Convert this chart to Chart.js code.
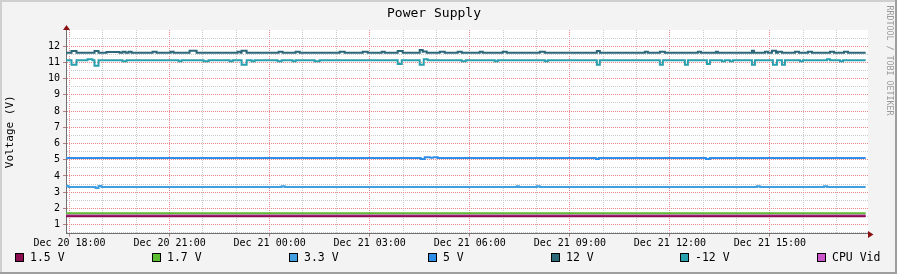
<!DOCTYPE html>
<html>
<head>
<meta charset="utf-8">
<script src="https://cdn.jsdelivr.net/npm/chart.js@4.4.0/dist/chart.umd.min.js"></script>
<style>
html, body { margin: 0; padding: 0; background: #f3f3f3; overflow: hidden; }
#psu-wrap { width: 897px; height: 274px; position: relative; }
</style>
</head>
<body>
<div id="psu-wrap"><canvas id="psu" width="897" height="274"></canvas></div>
<script>
// x values are hours after Dec 20 18:00
const seriesNames = ['1.5 V', '1.7 V', '3.3 V', '5 V', '12 V', '-12 V', 'CPU Vid'];
const baseValues = [1.52, 1.70, 3.32, 5.10, 11.59, 11.14, 1.58];
const xTickLabels = ['Dec 20 18:00', 'Dec 20 21:00', 'Dec 21 00:00', 'Dec 21 03:00',
                     'Dec 21 06:00', 'Dec 21 09:00', 'Dec 21 12:00', 'Dec 21 15:00'];
const yTickLabels = [1, 2, 3, 4, 5, 6, 7, 8, 9, 10, 11, 12];

// short excursions away from the base value: [from hour, to hour, value]
const steps33 = [
  [-0.105, -0.03, 3.38], [0.78, 0.87, 3.25], [0.87, 0.96, 3.38], [6.36, 6.45, 3.37],
  [13.41, 13.47, 3.36], [14.01, 14.1, 3.37], [20.61, 20.7, 3.37], [22.62, 22.71, 3.37]
];
const steps5 = [
  [10.53, 10.65, 5.05], [10.65, 10.8, 5.15], [10.8, 10.92, 5.12], [10.92, 11.04, 5.16],
  [15.78, 15.87, 5.05], [19.08, 19.2, 5.05]
];
const steps12 = [
  [0.06, 0.21, 11.71], [0.75, 0.87, 11.71], [1.11, 1.5, 11.64], [1.59, 1.68, 11.66],
  [1.77, 1.86, 11.66], [2.49, 2.61, 11.66], [3.03, 3.12, 11.66], [3.6, 3.81, 11.72],
  [5.04, 5.13, 11.66], [5.16, 5.31, 11.72], [6.27, 6.39, 11.66], [6.78, 6.9, 11.66],
  [8.1, 8.25, 11.66], [8.79, 8.94, 11.66], [9.36, 9.45, 11.66], [9.84, 9.99, 11.7],
  [10.5, 10.59, 11.76], [10.59, 10.71, 11.68], [11.1, 11.25, 11.66], [11.64, 11.76, 11.66],
  [12.3, 12.39, 11.66], [12.99, 13.11, 11.66], [14.1, 14.25, 11.66], [15.81, 15.9, 11.7],
  [17.25, 17.34, 11.66], [17.7, 17.85, 11.66], [18.84, 18.93, 11.66], [19.38, 19.44, 11.66],
  [20.46, 20.52, 11.72], [20.85, 20.94, 11.66], [21.06, 21.18, 11.72], [21.24, 21.36, 11.66],
  [21.75, 21.87, 11.66], [22.14, 22.26, 11.66], [22.8, 22.92, 11.66], [23.22, 23.34, 11.66]
];
const stepsNeg12 = [
  [0.06, 0.21, 10.85], [0.54, 0.69, 11.2], [0.75, 0.87, 10.8], [1.59, 1.71, 11.08],
  [3.27, 3.36, 11.08], [4.02, 4.17, 11.08], [4.8, 4.89, 11.08], [5.16, 5.31, 10.85],
  [5.46, 5.55, 11.08], [6.24, 6.36, 11.08], [6.69, 6.78, 11.08], [7.35, 7.5, 11.08],
  [9.84, 9.96, 10.9], [10.5, 10.62, 10.85], [10.62, 10.74, 11.2], [11.76, 11.88, 11.08],
  [12.75, 12.84, 11.08], [14.25, 14.34, 11.08], [15.81, 15.9, 10.85], [17.7, 17.79, 10.85],
  [18.45, 18.54, 10.85], [19.11, 19.2, 10.9], [19.56, 19.65, 11.08], [19.8, 19.89, 11.08],
  [20.46, 20.55, 10.85], [21.09, 21.21, 10.85], [21.36, 21.45, 10.85], [21.9, 21.99, 11.08],
  [22.71, 22.8, 11.2], [23.1, 23.19, 11.08]
];
const seriesSteps = [[], [], steps33, steps5, steps12, stepsNeg12, []];

const seriesColors = ['#8c0c52', '#5bbd2f', '#3f9fe0', '#2e8de6', '#2b6679', '#29a0ae', '#cc55cc'];
const xMin = -0.105, xMax = 23.94, dataEnd = 23.87;
const yMin = 0.45, yMax = 13.0;

const MONO = "'DejaVu Sans Mono', monospace";
const MAJOR = '#e98888', MINOR = '#cbcbcb';
const TICK_ON = '#b08080', TICK_OFF = 'rgba(0,0,0,0)';

// tick positions: every hour on x (labelled every 3 h), every 0.5 V on y
const xTickValues = [];
for (let h = 0; h < xTickLabels.length * 3; h++) xTickValues.push(h);
const yTickValues = [0.5];
yTickLabels.forEach(function (v) { yTickValues.push(v, v + 0.5); });

const xMajor = xTickValues.map(function (h) { return h % 3 === 0; });
const yMajor = yTickValues.map(function (v) { return Number.isInteger(v); });
const xGridColors = xMajor.map(function (m) { return m ? MAJOR : MINOR; });
const xTickColors = xMajor.map(function (m) { return m ? TICK_ON : TICK_OFF; });
const yGridColors = yMajor.map(function (m) { return m ? MAJOR : MINOR; });
const yTickColors = yMajor.map(function (m) { return m ? TICK_ON : TICK_OFF; });

function stepPoints(base, steps) {
  const pts = [{ x: xMin, y: base }];
  steps.forEach(function (s) {
    pts.push({ x: s[0], y: s[2] });
    pts.push({ x: s[1], y: base });
  });
  pts.push({ x: dataEnd, y: base });
  return pts;
}

const framePlugin = {
  id: 'rrdFrame',
  beforeDraw(chart) {
    const ctx = chart.ctx, a = chart.chartArea;
    const W = chart.width, H = chart.height;
    ctx.save();
    ctx.fillStyle = '#f3f3f3';
    ctx.fillRect(0, 0, W, H);
    ctx.fillStyle = '#cfcfcf';
    ctx.fillRect(0, 0, W, 2);
    ctx.fillRect(0, 0, 2, H);
    ctx.fillStyle = '#9e9e9e';
    ctx.fillRect(0, H - 2, W, 2);
    ctx.fillRect(W - 2, 0, 2, H);
    ctx.fillStyle = '#ffffff';
    ctx.fillRect(a.left, a.top, a.right - a.left, a.bottom - a.top);
    ctx.restore();
  },
  afterDraw(chart) {
    const ctx = chart.ctx, a = chart.chartArea;
    ctx.save();
    // axis arrows
    ctx.strokeStyle = '#707070';
    ctx.lineWidth = 1;
    ctx.beginPath();
    ctx.moveTo(Math.round(a.left) + 0.5, a.top);
    ctx.lineTo(Math.round(a.left) + 0.5, a.top - 2);
    ctx.moveTo(a.right, Math.round(a.bottom) + 0.5);
    ctx.lineTo(a.right + 3, Math.round(a.bottom) + 0.5);
    ctx.stroke();
    ctx.fillStyle = '#8b1212';
    const ax = Math.round(a.left) + 0.5;
    ctx.beginPath();
    ctx.moveTo(ax - 3.5, a.top);
    ctx.lineTo(ax + 3.5, a.top);
    ctx.lineTo(ax, a.top - 5);
    ctx.closePath();
    ctx.fill();
    const ay = Math.round(a.bottom) + 0.5;
    ctx.beginPath();
    ctx.moveTo(a.right, ay - 3.5);
    ctx.lineTo(a.right, ay + 3.5);
    ctx.lineTo(a.right + 5.5, ay);
    ctx.closePath();
    ctx.fill();

    // legend
    const legendX = [15, 152, 289, 428, 551, 680, 817];
    ctx.font = '11.5px ' + MONO;
    ctx.textBaseline = 'middle';
    ctx.textAlign = 'left';
    seriesNames.forEach(function (name, i) {
      const x = legendX[i];
      ctx.fillStyle = '#000000';
      ctx.fillRect(x, 253, 9, 9);
      ctx.fillStyle = seriesColors[i];
      ctx.fillRect(x + 1, 254, 7, 7);
      ctx.fillStyle = '#000000';
      ctx.fillText(name, x + 15, 258);
    });

    // watermark
    ctx.translate(889, 60.5);
    ctx.rotate(Math.PI / 2);
    ctx.font = '8.3px ' + MONO;
    ctx.fillStyle = '#9a9a9a';
    ctx.textAlign = 'center';
    ctx.fillText('RRDTOOL / TOBI OETIKER', 0, 0);
    ctx.restore();
  }
};

const datasets = seriesNames.map(function (name, i) {
  return {
    label: name,
    data: stepPoints(baseValues[i], seriesSteps[i]),
    borderColor: seriesColors[i],
    backgroundColor: seriesColors[i],
    borderWidth: 2,
    pointRadius: 0,
    stepped: 'before',
    fill: false,
    order: name === 'CPU Vid' ? 10 : i
  };
});

new Chart(document.getElementById('psu'), {
  type: 'line',
  data: { datasets: datasets },
  plugins: [framePlugin],
  options: {
    responsive: false,
    animation: false,
    events: [],
    layout: { padding: { left: 0, right: 29, top: 0, bottom: 20.5 } },
    plugins: {
      legend: { display: false },
      tooltip: { enabled: false },
      title: {
        display: true,
        text: 'Power Supply',
        color: '#000000',
        font: { family: MONO, size: 13, weight: 'normal' },
        padding: { top: 6, bottom: 8.4 }
      }
    },
    scales: {
      x: {
        type: 'linear',
        min: xMin,
        max: xMax,
        afterBuildTicks(scale) {
          scale.ticks = xTickValues.map(function (v) { return { value: v }; });
        },
        afterFit(scale) { scale.height = 20; },
        ticks: {
          autoSkip: false,
          maxRotation: 0,
          minRotation: 0,
          padding: 1,
          color: '#000000',
          font: { family: MONO, size: 10 },
          callback: function (v) { return v % 3 === 0 ? xTickLabels[v / 3] : ''; }
        },
        grid: {
          color: xGridColors,
          tickColor: xTickColors,
          tickLength: 3,
          lineWidth: 1
        },
        border: { display: true, color: '#707070', width: 1, dash: [1, 1] }
      },
      y: {
        type: 'linear',
        min: yMin,
        max: yMax,
        afterBuildTicks(scale) {
          scale.ticks = yTickValues.map(function (v) { return { value: v }; });
        },
        afterFit(scale) { scale.width = 66; },
        title: {
          display: true,
          text: 'Voltage (V)',
          color: '#000000',
          font: { family: MONO, size: 11 },
          padding: { top: 3.4, bottom: 0 }
        },
        ticks: {
          autoSkip: false,
          padding: 3,
          color: '#000000',
          font: { family: MONO, size: 10 },
          callback: function (v) { return Number.isInteger(v) ? String(v) : ''; }
        },
        grid: {
          color: yGridColors,
          tickColor: yTickColors,
          tickLength: 3,
          lineWidth: 1
        },
        border: { display: true, color: '#707070', width: 1, dash: [1, 1] }
      }
    }
  }
});
</script>
</body>
</html>
